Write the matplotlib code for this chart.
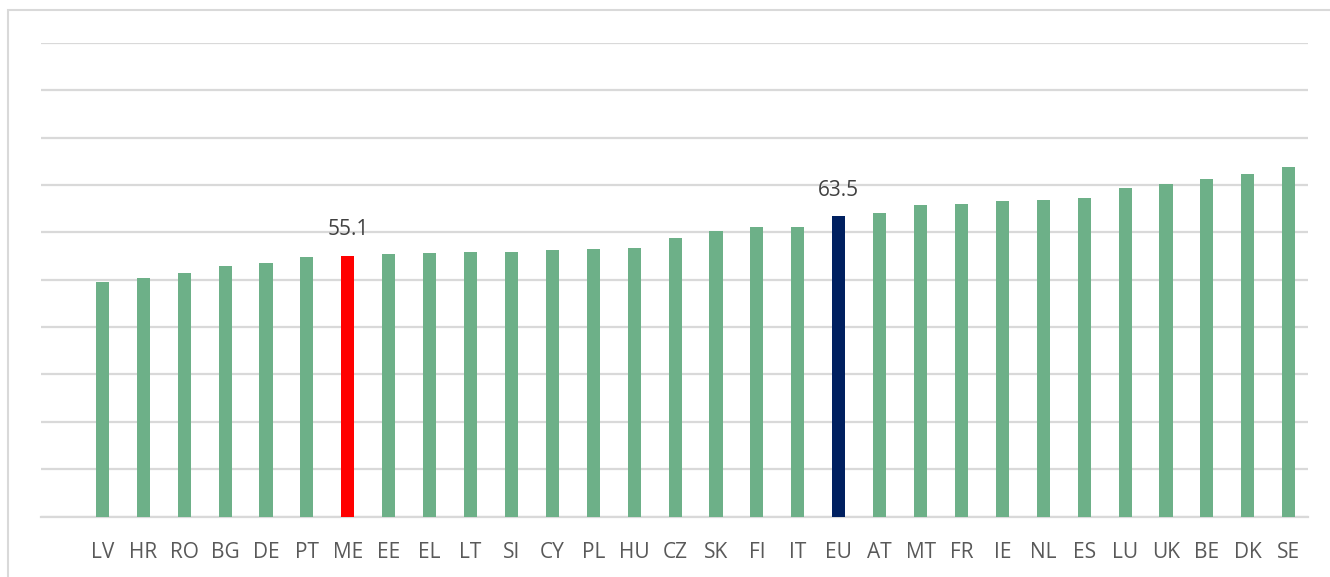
import matplotlib
matplotlib.use('Agg')
import matplotlib.pyplot as plt
from matplotlib.patches import Rectangle

countries = ['LV', 'HR', 'RO', 'BG', 'DE', 'PT', 'ME', 'EE', 'EL', 'LT',
             'SI', 'CY', 'PL', 'HU', 'CZ', 'SK', 'FI', 'IT', 'EU', 'AT',
             'MT', 'FR', 'IE', 'NL', 'ES', 'LU', 'UK', 'BE', 'DK', 'SE']
values = [49.6, 50.3, 51.4, 53.0, 53.6, 54.9, 55.1, 55.4, 55.6, 55.9,
          55.9, 56.3, 56.5, 56.8, 58.9, 60.4, 61.1, 61.1, 63.5, 64.1,
          65.7, 66.0, 66.7, 66.9, 67.2, 69.4, 70.3, 71.2, 72.3, 73.8]
highlight = {'ME': '#FF0000', 'EU': '#002060'}
labelled = ['ME', 'EU']

plt.rcParams['font.family'] = ['Open Sans', 'DejaVu Sans']

fig = plt.figure(figsize=(13.3, 5.77), dpi=100)
ax = fig.add_axes([41/1330, 1 - 516.5/577, (1308-41)/1330, (516.5-43)/577])

colors = [highlight.get(c, '#6DB088') for c in countries]
x = range(len(countries))
bars = ax.bar(x, values, width=0.32, color=colors, zorder=3)

for b, c, v in zip(bars, countries, values):
    if c in labelled:
        ax.annotate(f'{v:.1f}', (b.get_x() + b.get_width()/2, v),
                    xytext=(0, 11), textcoords='offset points',
                    ha='center', va='bottom', fontsize=15, color='#404040')

ax.set_ylim(0, 100)
ax.set_xlim(-1.5, 29.47)
ax.set_yticks(range(0, 101, 10))
ax.yaxis.grid(True, color='#D9D9D9', linewidth=1.6, zorder=0)
ax.tick_params(axis='y', left=False, labelleft=False)
ax.set_xticks(list(x))
ax.set_xticklabels(countries, fontsize=15, color='#595959')
ax.tick_params(axis='x', length=0, pad=18)
for s in ['top', 'right', 'left']:
    ax.spines[s].set_visible(False)
ax.spines['bottom'].set_color('#D9D9D9')
ax.spines['bottom'].set_linewidth(1.6)

fig.patches.append(Rectangle((8/1330, -0.05), 1.1, 1 - 10/577 + 0.05,
                             transform=fig.transFigure, fill=False,
                             edgecolor='#D9D9D9', linewidth=1.5))

fig.savefig('out.png', dpi=100)
